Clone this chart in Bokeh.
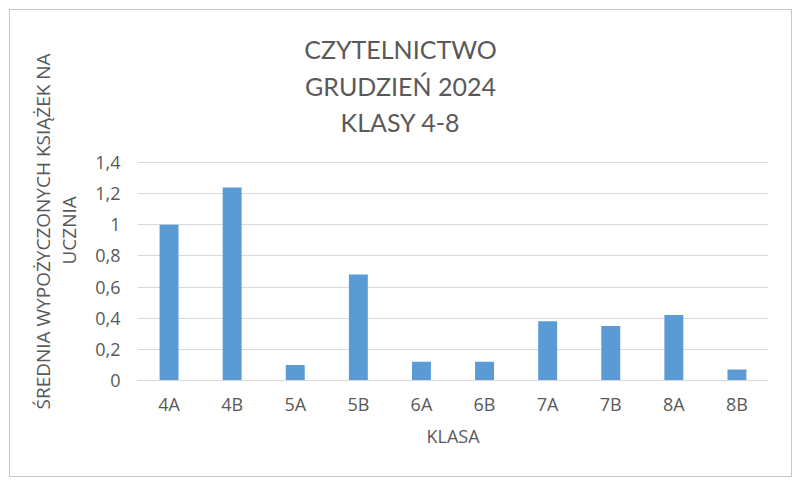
from bokeh.plotting import figure
from bokeh.models import (FactorRange, Range1d, FixedTicker, CustomJSTickFormatter,
                          Label, Title, ColumnDataSource)
from bokeh.embed import file_html
from bokeh.resources import INLINE

categories = ["4A", "4B", "5A", "5B", "6A", "6B", "7A", "7B", "8A", "8B"]
values = [1.0, 1.24, 0.1, 0.68, 0.12, 0.12, 0.38, 0.35, 0.42, 0.07]
y_ticks = [0, 0.2, 0.4, 0.6, 0.8, 1.0, 1.2, 1.4]
y_tick_labels = ["0", "0,2", "0,4", "0,6", "0,8", "1", "1,2", "1,4"]
title_lines = ["CZYTELNICTWO", "GRUDZIEŃ 2024", "KLASY 4-8"]
y_label_lines = ["ŚREDNIA WYPOŻYCZONYCH KSIĄŻEK NA", "UCZNIA"]
x_label = "KLASA"

TEXT = "#595959"
GRID = "#d9d9d9"
BAR = "#5b9bd5"
FONT = "Open Sans"
TFONT = "Lato"

W, H = 783, 468
B_LEFT, B_RIGHT, B_TOP, B_BOTTOM = 127, 25, 5, 98
GRID_TOP_PX = 218          # pixel height of the 0..1.4 band
frame_h = H - B_TOP - B_BOTTOM
y_end = y_ticks[-1] * frame_h / GRID_TOP_PX   # space above 1.4 holds the title

src = ColumnDataSource(dict(cat=categories, val=values))

p = figure(
    width=W, height=H,
    x_range=FactorRange(factors=categories, range_padding=0),
    y_range=Range1d(y_ticks[0], y_end),
    output_backend="svg", toolbar_location=None,
    min_border_left=B_LEFT, min_border_right=B_RIGHT,
    min_border_top=B_TOP, min_border_bottom=B_BOTTOM,
    background_fill_color="white", border_fill_color="white",
)
p.outline_line_color = None
p.styles = {"margin-left": "9px", "margin-top": "9px", "border": "1px solid #c6c6c6"}

p.vbar(x="cat", top="val", width=0.3, source=src, color=BAR, line_color=None)

p.xgrid.grid_line_color = None
p.ygrid.grid_line_color = GRID
p.ygrid.grid_line_width = 1
p.ygrid.ticker = FixedTicker(ticks=y_ticks)

p.yaxis.ticker = FixedTicker(ticks=y_ticks)
p.yaxis.formatter = CustomJSTickFormatter(
    args=dict(vals=y_ticks, labs=y_tick_labels),
    code="""
    for (let i = 0; i < vals.length; i++) {
        if (Math.abs(vals[i] - tick) < 1e-9) return labs[i];
    }
    return String(tick).replace('.', ',');
    """,
)
p.yaxis.axis_line_color = None
p.yaxis.major_tick_line_color = None
p.yaxis.minor_tick_line_color = None
p.yaxis.major_tick_out = 0
p.yaxis.major_tick_in = 0
p.yaxis.minor_tick_out = 0
p.yaxis.major_label_text_font = FONT
p.yaxis.major_label_text_font_size = "18px"
p.yaxis.major_label_text_color = TEXT
p.yaxis.major_label_standoff = 17

p.xaxis.axis_line_color = GRID
p.xaxis.major_tick_line_color = None
p.xaxis.minor_tick_line_color = None
p.xaxis.major_tick_out = 0
p.xaxis.major_tick_in = 0
p.xaxis.major_label_text_font = FONT
p.xaxis.major_label_text_font_size = "18px"
p.xaxis.major_label_text_color = TEXT
p.xaxis.major_label_standoff = 11
p.xaxis.axis_label = x_label
p.xaxis.axis_label_text_font = FONT
p.xaxis.axis_label_text_font_size = "18px"
p.xaxis.axis_label_text_font_style = "normal"
p.xaxis.axis_label_text_color = TEXT
p.xaxis.axis_label_standoff = 5

# Chart title: three centred lines inside the (extended) frame
title_baselines = [332, 295, 259]
for line, by in zip(title_lines, title_baselines):
    p.add_layout(Label(
        x=263, y=by, x_units="screen", y_units="screen",
        text=line, text_font=TFONT, text_font_size="25px", text_color=TEXT,
        text_align="center", text_baseline="alphabetic",
    ))

# Y axis title: two rotated lines in the left panel (closest to axis first)
ylab_offsets = [116, -29]
ylab_standoffs = [22, -26]
for line, off, so in zip(reversed(y_label_lines), ylab_offsets, ylab_standoffs):
    p.add_layout(Title(
        text=line, align="left", offset=off, standoff=so,
        text_font=FONT, text_font_size="19px", text_font_style="normal",
        text_color=TEXT,
    ), "left")

open("out.html", "w").write(file_html(p, INLINE))
